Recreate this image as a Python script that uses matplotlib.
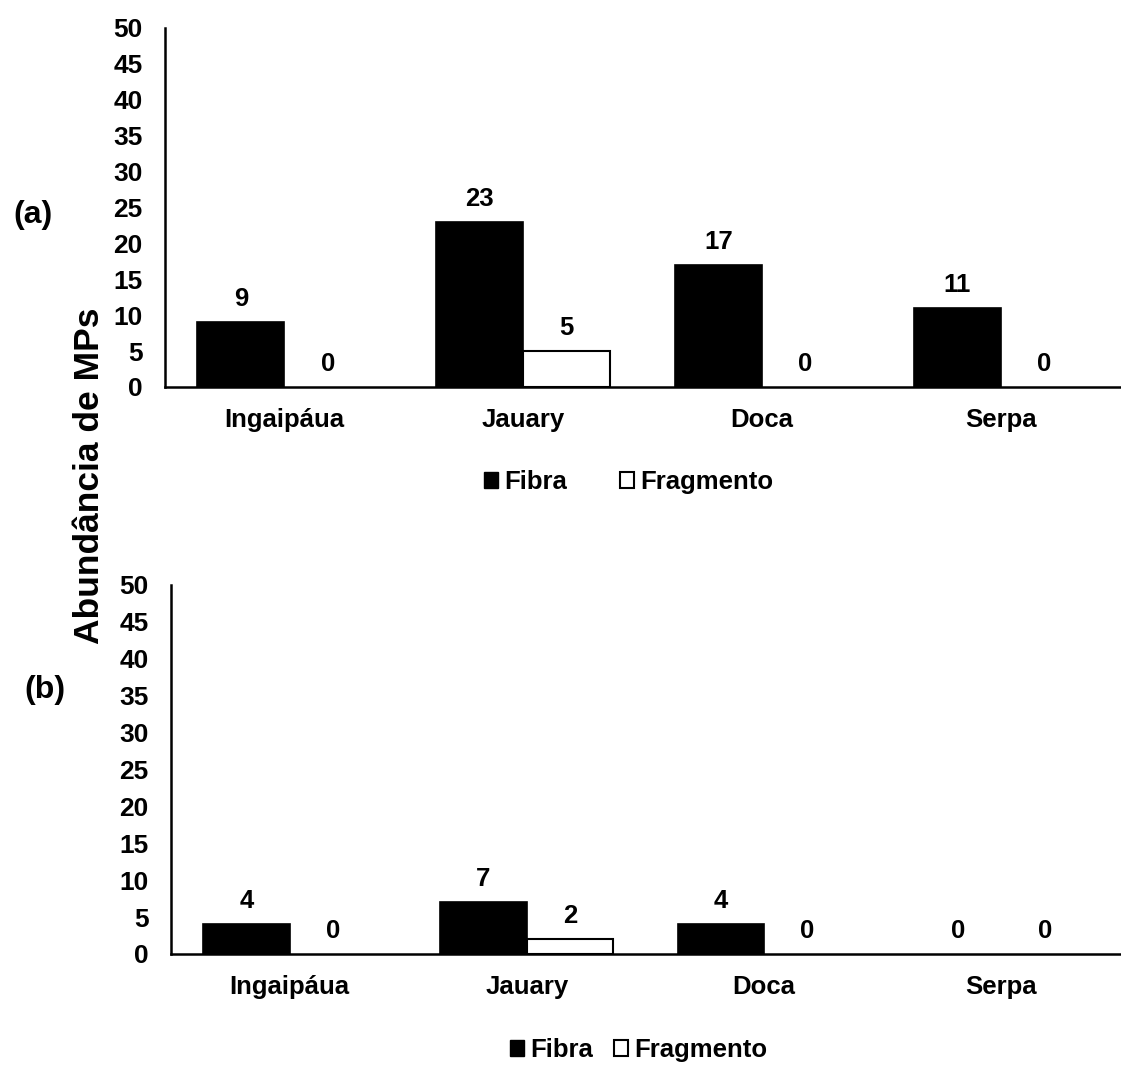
import matplotlib.pyplot as plt
import numpy as np
from matplotlib.patches import Patch

plt.rcParams["font.family"] = ["Liberation Sans", "DejaVu Sans"]
plt.rcParams["font.weight"] = "bold"

SITES = ["Ingaipáua", "Jauary", "Doca", "Serpa"]
FIBRA_A = [9, 23, 17, 11]
FRAGMENTO_A = [0, 5, 0, 0]
FIBRA_B = [4, 7, 4, 0]
FRAGMENTO_B = [0, 2, 0, 0]
Y_TICKS = list(range(0, 55, 5))

BAR_W = 0.365
FS = 18.5
FS_TICK = 19


def draw_panel(ax, fibra, frag):
    x = np.arange(len(SITES))
    b1 = ax.bar(x - BAR_W / 2, fibra, width=BAR_W, color="black",
                edgecolor="black", linewidth=1.2, label="Fibra")
    b2 = ax.bar(x + BAR_W / 2, frag, width=BAR_W, color="white",
                edgecolor="black", linewidth=1.5, label="Fragmento")
    for bars, vals in ((b1, fibra), (b2, frag)):
        for rect, v in zip(bars, vals):
            if v == 0:
                rect.set_linewidth(0)
            ax.annotate(f"{v}", (rect.get_x() + rect.get_width() / 2, v),
                        xytext=(0, 8), textcoords="offset points",
                        ha="center", va="bottom", fontsize=FS, fontweight="bold")
    ax.set_xlim(-0.5, len(SITES) - 0.5)
    ax.set_ylim(0, 50)
    ax.set_yticks(Y_TICKS)
    ax.set_xticks(x)
    ax.set_xticklabels(SITES, fontsize=FS, fontweight="bold")
    ax.tick_params(axis="y", length=0, pad=16, labelsize=FS_TICK)
    ax.tick_params(axis="x", length=0, pad=15)
    for s in ("top", "right"):
        ax.spines[s].set_visible(False)
    for s in ("left", "bottom"):
        ax.spines[s].set_linewidth(1.8)
    return b1, b2


fig = plt.figure(figsize=(11.21, 10.66), dpi=100)
ax_a = fig.add_axes([0.1472, 0.637, 0.852, 0.3368])
ax_b = fig.add_axes([0.1525, 0.1051, 0.8466, 0.3462])

draw_panel(ax_a, FIBRA_A, FRAGMENTO_A)
draw_panel(ax_b, FIBRA_B, FRAGMENTO_B)

handles = [Patch(facecolor="black", edgecolor="black", label="Fibra"),
           Patch(facecolor="white", edgecolor="black", linewidth=1.5, label="Fragmento")]
fig.legend(handles=handles, loc="center", bbox_to_anchor=(0.561, 1 - 482 / 1066),
           ncol=2, frameon=False, handlelength=0.55, handleheight=0.55,
           handletextpad=0.25, columnspacing=2.05, prop={"weight": "bold", "size": FS})
fig.legend(handles=handles, loc="center", bbox_to_anchor=(0.5696, 1 - 1050 / 1066),
           ncol=2, frameon=False, handlelength=0.55, handleheight=0.55,
           handletextpad=0.25, columnspacing=0.8, prop={"weight": "bold", "size": FS})

fig.text(33 / 1121, 1 - 215 / 1066, "(a)", fontsize=23, fontweight="bold",
         ha="center", va="center")
fig.text(45 / 1121, 1 - 690 / 1066, "(b)", fontsize=23, fontweight="bold",
         ha="center", va="center")
fig.text(90 / 1121, 1 - 476 / 1066, "Abundância de MPs", fontsize=25.5,
         fontweight="bold", rotation=90, ha="center", va="center")

fig.savefig("out.png", dpi=100)
